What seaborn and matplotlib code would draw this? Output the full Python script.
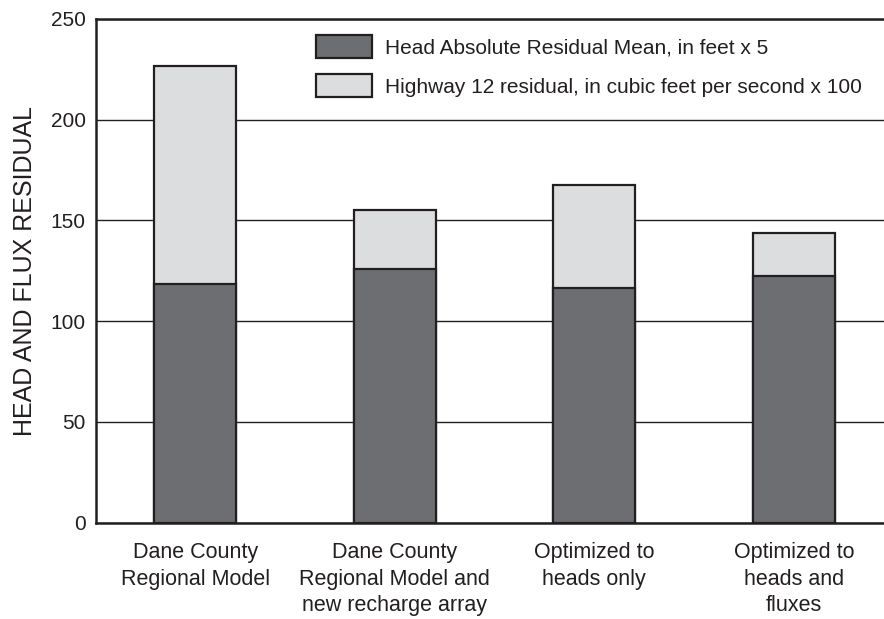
import matplotlib
matplotlib.use("Agg")
import matplotlib.pyplot as plt
import matplotlib.patches as mpatches
import seaborn as sns
import pandas as pd
import numpy as np

categories = [
    "Dane County\nRegional Model",
    "Dane County\nRegional Model and\nnew recharge array",
    "Optimized to\nheads only",
    "Optimized to\nheads and\nfluxes",
]
head_residual = [118.4, 125.7, 116.6, 122.5]
flux_residual = [108.3, 29.5, 50.8, 21.2]
series_labels = [
    "Head Absolute Residual Mean, in feet x 5",
    "Highway 12 residual, in cubic feet per second x 100",
]
y_ticks = [0, 50, 100, 150, 200, 250]
y_label = "HEAD AND FLUX RESIDUAL"

dark = "#6d6e71"
light = "#dcdddf"
ink = "#231f20"

sns.set_style("white")
plt.rcParams["font.family"] = ["Liberation Sans", "DejaVu Sans"]

df = pd.DataFrame({
    "category": categories,
    "head": head_residual,
    "flux": flux_residual,
})
df["total"] = df["head"] + df["flux"]

W, H = 884, 619
fig = plt.figure(figsize=(W / 100, H / 100), dpi=100)
ax = fig.add_axes([95.5 / W, (H - 522.5) / H, 798 / W, 503.5 / H])

sns.barplot(data=df, x="category", y="total", color=light, width=0.41,
            edgecolor=ink, linewidth=1.6, saturation=1, ax=ax, zorder=3)
sns.barplot(data=df, x="category", y="head", color=dark, width=0.41,
            edgecolor=ink, linewidth=1.6, saturation=1, ax=ax, zorder=4)

ax.set_xlim(-0.5, 3.5)
ax.set_ylim(0, 250)
ax.set_yticks(y_ticks)
ax.yaxis.grid(True, color=ink, linewidth=1.0, zorder=0)
ax.set_axisbelow(True)

for side in ["left", "top", "bottom"]:
    ax.spines[side].set_visible(True)
    ax.spines[side].set_color(ink)
    ax.spines[side].set_linewidth(1.8)
ax.spines["right"].set_visible(False)

ax.tick_params(axis="y", length=0, pad=7, labelsize=15, colors=ink)
ax.tick_params(axis="x", which="major", length=0, pad=14, labelsize=15.5, colors=ink)
ax.set_xticks([0.5, 1.5, 2.5], minor=True)
ax.tick_params(axis="x", which="minor", direction="in", length=8, width=1.0, color=ink)
for lab in ax.get_xticklabels():
    lab.set_linespacing(1.35)
    lab.set_verticalalignment("top")

ax.set_xlabel("")
ax.set_ylabel(y_label, fontsize=18, color=ink, labelpad=10)

handles = [
    mpatches.Patch(facecolor=dark, edgecolor=ink, linewidth=1.6, label=series_labels[0]),
    mpatches.Patch(facecolor=light, edgecolor=ink, linewidth=1.6, label=series_labels[1]),
]
ax.legend(handles=handles, loc="upper left",
          bbox_to_anchor=(316 / W, 1 - 35 / H), bbox_transform=fig.transFigure,
          frameon=False, fontsize=15, handlelength=2.7, handleheight=1.35,
          handletextpad=0.6, labelspacing=0.75, borderpad=0, borderaxespad=0,
          labelcolor=ink)

fig.savefig("out.png", dpi=100)
